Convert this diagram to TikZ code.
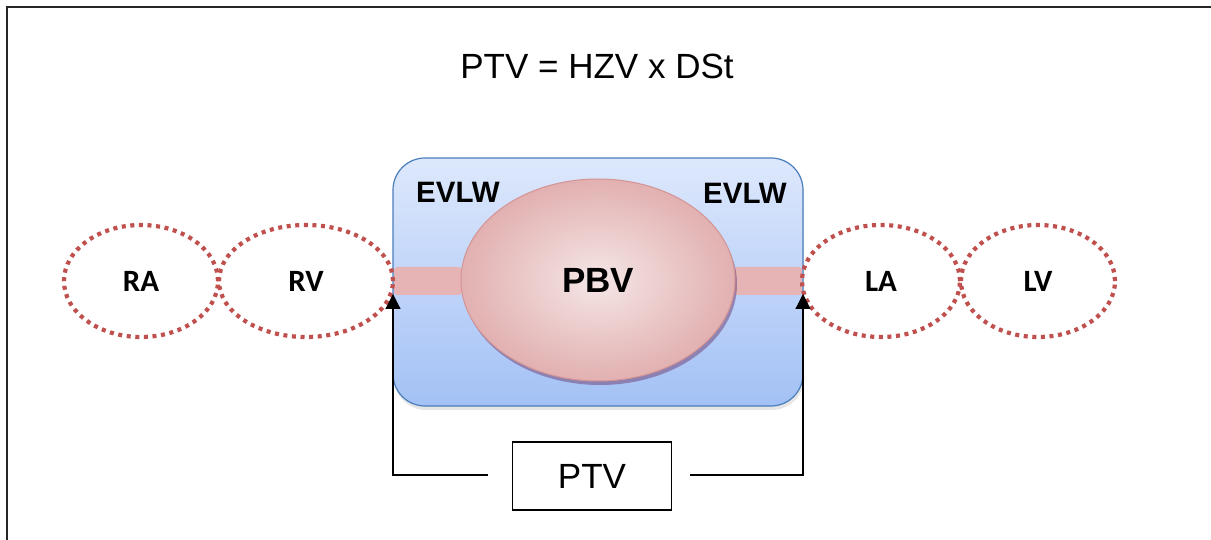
\documentclass[tikz,border=0pt]{standalone}
\usepackage{fontspec}
\setmainfont{Liberation Sans}
\newfontfamily\calfont{Carlito}
\usetikzlibrary{shapes.geometric, arrows.meta, shadows}

\definecolor{chamber}{HTML}{C0504D}
\definecolor{boxtop}{HTML}{DDE8FC}
\definecolor{boxbot}{HTML}{A3C1F5}
\definecolor{boxline}{HTML}{4A7EBB}
\definecolor{lungout}{HTML}{E2B0B0}
\definecolor{lungin}{HTML}{F5E6E6}
\definecolor{lungline}{HTML}{D49494}
\definecolor{vessel}{HTML}{E6B4B4}

\begin{document}
\begin{tikzpicture}[x=1pt, y=-1pt,
    heart/.style={ellipse, draw=chamber, line width=4.2pt, dash pattern=on 4pt off 4.6pt,
      inner sep=0pt, minimum height=112pt, font=\calfont\bfseries\fontsize{31}{31}\selectfont},
    label/.style={font=\bfseries\fontsize{29.5}{29.5}\selectfont},
    flow/.style={line width=1.2pt, -{Triangle[width=15pt,length=15pt]}}]
    \useasboundingbox (0,0) rectangle (1211,540);
    % frame
    \draw[line width=2.6pt, black!85] (7,540) -- (7,7) -- (1211,7);
    \node (title) at (597,66) {\fontsize{35}{35}\selectfont PTV = HZV x DSt};
    % lung compartment
    \node (box) at (598,282) [rounded corners=32pt, draw=boxline, line width=1.2pt,
      top color=boxtop, bottom color=boxbot, minimum width=410pt, minimum height=248pt,
      drop shadow={opacity=0.2, shadow xshift=1pt, shadow yshift=-4pt}] {};
    \node (evlwl) at (458,192) [label] {EVLW};
    \node (evlwr) at (745,193) [label] {EVLW};
    \node (barl) at (428,281) [rectangle, rounded corners=3pt, fill=vessel, minimum width=68pt, minimum height=28pt] {};
    \node (barr) at (768,281) [rectangle, rounded corners=3pt, fill=vessel, minimum width=68pt, minimum height=28pt] {};
    \fill[black!30!lungline!80!blue, opacity=0.6] (600,284) ellipse [x radius=137, y radius=101];
    \node (pbv) at (598,280) [ellipse, draw=lungline, line width=1pt, inner color=lungin, outer color=lungout,
      minimum width=274pt, minimum height=202pt, font=\bfseries\fontsize{35}{35}\selectfont] {PBV};
    % heart chambers
    \node (ra) at (141,281) [heart, minimum width=154pt] {RA};
    \node (rv) at (306,281) [heart, minimum width=174pt] {RV};
    \node (la) at (881,281) [heart, minimum width=158pt] {LA};
    \node (lv) at (1038,281) [heart, minimum width=154pt] {LV};
    % transit volume
    \node (ptv) at (592,476) [draw, line width=1.2pt, minimum width=159pt, minimum height=68pt,
      font=\fontsize{35}{35}\selectfont] {PTV};
    \coordinate (lfoot) at (488,475);
    \coordinate (rfoot) at (690,475);
    \coordinate (ltip) at (393,294);
    \coordinate (rtip) at (803,294);
    \draw[flow] (lfoot) -| (ltip);
    \draw[flow] (rfoot) -| (rtip);
\end{tikzpicture}
\end{document}
